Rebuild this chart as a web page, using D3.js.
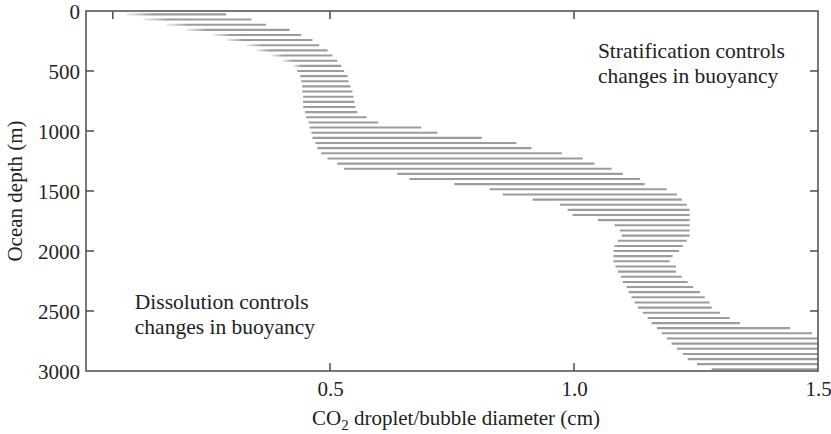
<!DOCTYPE html>
<html>
<head>
<meta charset="utf-8">
<script src="https://cdn.jsdelivr.net/npm/d3@7"></script>
<style>
  html, body { margin: 0; padding: 0; background: #fff; }
  svg { display: block; }
  text { font-family: "Liberation Serif", "DejaVu Serif", serif; fill: #222; }
</style>
</head>
<body>
<svg id="chart" width="831" height="434"></svg>
<script>
// Depth of each sampled level (m)
const depths = [28, 71, 114, 157, 200, 242, 285, 328, 371, 414, 457, 500, 543, 586, 628,
  671, 714, 757, 800, 843, 886, 929, 971, 1014, 1057, 1100, 1143, 1186, 1229, 1272,
  1314, 1357, 1400, 1443, 1486, 1529, 1572, 1615, 1657, 1700, 1743, 1786, 1829, 1872,
  1915, 1958, 2000, 2043, 2086, 2129, 2172, 2215, 2258, 2300, 2343, 2386, 2429, 2472,
  2515, 2558, 2601, 2643, 2686, 2729, 2772, 2815, 2858, 2901, 2943, 2986];

// Smallest diameter at each level (cm)
const minDiameter = [0.082, 0.117, 0.164, 0.205, 0.259, 0.287, 0.328, 0.349, 0.380, 0.402,
  0.425, 0.433, 0.439, 0.441, 0.443, 0.443, 0.445, 0.445, 0.445, 0.449,
  0.451, 0.456, 0.458, 0.462, 0.464, 0.470, 0.474, 0.482, 0.495, 0.515,
  0.529, 0.638, 0.663, 0.755, 0.827, 0.854, 0.915, 0.971, 0.987, 0.997,
  1.049, 1.083, 1.094, 1.098, 1.090, 1.083, 1.081, 1.081, 1.081, 1.085,
  1.090, 1.096, 1.100, 1.108, 1.112, 1.118, 1.124, 1.131, 1.141, 1.151,
  1.159, 1.170, 1.180, 1.190, 1.200, 1.211, 1.223, 1.233, 1.252, 1.282];

// Largest diameter at each level (cm)
const maxDiameter = [0.287, 0.339, 0.369, 0.417, 0.441, 0.464, 0.478, 0.495, 0.505, 0.515,
  0.523, 0.529, 0.536, 0.538, 0.542, 0.546, 0.548, 0.550, 0.552, 0.556,
  0.575, 0.599, 0.687, 0.720, 0.811, 0.882, 0.913, 0.975, 1.018, 1.042,
  1.077, 1.100, 1.135, 1.145, 1.190, 1.211, 1.221, 1.231, 1.237, 1.237,
  1.237, 1.237, 1.237, 1.237, 1.231, 1.223, 1.215, 1.202, 1.196, 1.209,
  1.209, 1.221, 1.233, 1.244, 1.258, 1.268, 1.278, 1.282, 1.299, 1.319,
  1.340, 1.443, 1.488, 1.500, 1.500, 1.500, 1.500, 1.500, 1.500, 1.500];

const xTicks = [0.5, 1.0, 1.5];
const xTopTicks = [0.055, 0.5, 1.0];
const yTicks = [0, 500, 1000, 1500, 2000, 2500, 3000];
const yInnerTicks = [500, 1000, 1500, 2000, 2500];

const xLabel = "droplet/bubble diameter (cm)";
const yLabel = "Ocean depth (m)";
const notes = [
  { lines: ["Stratification controls", "changes in buoyancy"], x: 1.049, y: 392 },
  { lines: ["Dissolution controls", "changes in buoyancy"], x: 0.1, y: 2483 }
];

const svg = d3.select("#chart");
const plotLeft = 86, plotRight = 818, plotTop = 11, plotBottom = 371;
const fontSize = 21;

const x = d3.scaleLinear().domain([0, 1.5]).range([plotLeft, plotRight]);
const y = d3.scaleLinear().domain([0, 3000]).range([plotTop, plotBottom]);

const rows = depths.map((d, i) => ({ depth: d, lo: minDiameter[i], hi: maxDiameter[i], i }));

// Soft left ends on the shallow strokes, where the band slants steeply
const defs = svg.append("defs");
const fadeRows = rows.filter(r => r.i < 11);
fadeRows.forEach(r => {
  const x0 = x(r.lo);
  const len = Math.max(8, 26 - r.i * 1.8);
  const g = defs.append("linearGradient")
    .attr("id", "fade" + r.i)
    .attr("gradientUnits", "userSpaceOnUse")
    .attr("x1", x0).attr("x2", x0 + len).attr("y1", 0).attr("y2", 0);
  g.append("stop").attr("offset", 0).attr("stop-color", "#9c9c9c").attr("stop-opacity", 0.15);
  g.append("stop").attr("offset", 1).attr("stop-color", "#9c9c9c").attr("stop-opacity", 1);
});

// Hatched band: one horizontal stroke per depth level
svg.append("g")
  .selectAll("line")
  .data(rows)
  .join("line")
  .attr("x1", d => x(d.lo))
  .attr("x2", d => x(d.hi))
  .attr("y1", d => y(d.depth))
  .attr("y2", d => y(d.depth))
  .attr("stroke", d => d.i < 11 ? `url(#fade${d.i})` : "#9c9c9c")
  .attr("stroke-width", 2.1);

const axisColor = "#555";
const tickLen = 8;

// Frame
svg.append("rect")
  .attr("x", plotLeft).attr("y", plotTop)
  .attr("width", plotRight - plotLeft).attr("height", plotBottom - plotTop)
  .attr("fill", "none")
  .attr("stroke", axisColor)
  .attr("stroke-width", 1.6);

// Left axis: labels outside, ticks inward
const yAxisL = svg.append("g")
  .attr("transform", `translate(${plotLeft},0)`)
  .call(d3.axisLeft(y).tickValues(yTicks).tickSize(0).tickPadding(6).tickFormat(d3.format("d")));
yAxisL.select(".domain").remove();
yAxisL.selectAll("text").attr("font-size", fontSize).attr("dy", "0.34em")
  .attr("font-family", "Liberation Serif, serif").attr("fill", "#222");

svg.append("g").selectAll("line").data(yInnerTicks).join("line")
  .attr("x1", plotLeft).attr("x2", plotLeft + tickLen)
  .attr("y1", d => y(d)).attr("y2", d => y(d))
  .attr("stroke", axisColor).attr("stroke-width", 1.6);

svg.append("g").selectAll("line").data(yInnerTicks).join("line")
  .attr("x1", plotRight).attr("x2", plotRight - tickLen)
  .attr("y1", d => y(d)).attr("y2", d => y(d))
  .attr("stroke", axisColor).attr("stroke-width", 1.6);

// Bottom axis
const xAxisB = svg.append("g")
  .attr("transform", `translate(0,${plotBottom})`)
  .call(d3.axisBottom(x).tickValues(xTicks).tickSize(0).tickPadding(10).tickFormat(d3.format(".1f")));
xAxisB.select(".domain").remove();
xAxisB.selectAll("text").attr("font-size", fontSize)
  .attr("font-family", "Liberation Serif, serif").attr("fill", "#222");

svg.append("g").selectAll("line").data(xTicks.filter(d => d < 1.5)).join("line")
  .attr("x1", d => x(d)).attr("x2", d => x(d))
  .attr("y1", plotBottom).attr("y2", plotBottom - tickLen)
  .attr("stroke", axisColor).attr("stroke-width", 1.6);

svg.append("g").selectAll("line").data(xTopTicks).join("line")
  .attr("x1", d => x(d)).attr("x2", d => x(d))
  .attr("y1", plotTop).attr("y2", plotTop + tickLen)
  .attr("stroke", axisColor).attr("stroke-width", 1.6);

// Axis titles
const xt = svg.append("text")
  .attr("x", 456)
  .attr("y", 425)
  .attr("text-anchor", "middle")
  .attr("font-size", fontSize);
xt.append("tspan").text("CO");
xt.append("tspan").attr("font-size", 15).attr("dy", 5).text("2");
xt.append("tspan").attr("dy", -5).text(" " + xLabel);

svg.append("text")
  .attr("transform", `translate(22,${(plotTop + plotBottom) / 2}) rotate(-90)`)
  .attr("text-anchor", "middle")
  .attr("font-size", fontSize)
  .text(yLabel);

// Annotations
notes.forEach(n => {
  const t = svg.append("text")
    .attr("x", x(n.x))
    .attr("y", y(n.y))
    .attr("font-size", 21.5);
  n.lines.forEach((s, i) => {
    t.append("tspan").attr("x", x(n.x)).attr("dy", i === 0 ? 0 : 25).text(s);
  });
});
</script>
</body>
</html>
